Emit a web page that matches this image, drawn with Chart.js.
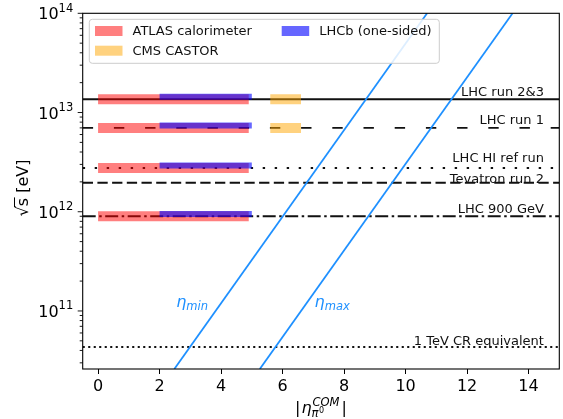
<!DOCTYPE html>
<html>
<head>
<meta charset="utf-8">
<script src="https://cdn.jsdelivr.net/npm/chart.js@4/dist/chart.umd.min.js"></script>
<style>
  html, body { margin: 0; padding: 0; background: #fff; }
  #wrap { width: 563px; height: 419px; }
</style>
</head>
<body>
<div id="wrap"><canvas id="etaChart" width="563" height="419"></canvas></div>
<script>
// axis limits and ticks
const xMin = -0.5, xMax = 15;
const yMin = 2.6e10, yMax = 1e14;
const xTicks = [0, 2, 4, 6, 8, 10, 12, 14];
const yTicks = [1e11, 1e12, 1e13, 1e14];

// reference energies (sqrt(s) in eV)
const refLabels = ["LHC run 2&3", "LHC run 1", "LHC HI ref run", "Tevatron run 2", "LHC 900 GeV", "1 TeV CR equivalent"];
const refEnergies = [1.36e13, 7e12, 2.76e12, 1.96e12, 9e11, 4.33e10];

// detector acceptance bands: eta range and energies
const atlasRange = [0, 4.9];
const atlasEnergies = [1.36e13, 7e12, 2.76e12, 9e11];
const lhcbRange = [2, 5.0];
const lhcbEnergies = [1.44e13, 7.4e12, 2.92e12, 9.5e11];
const castorRange = [5.6, 6.6];
const castorEnergies = [1.36e13, 7e12];

// eta_min / eta_max curves, endpoints
const etaMinX = [2.48, 10.7];
const etaMinY = [2.6e10, 1e14];
const etaMaxX = [5.26, 13.48];
const etaMaxY = [2.6e10, 1e14];

const FONT = "'DejaVu Sans', sans-serif";
const BLUE = "#1e90ff";

// line styles for the reference lines (same order as refLabels)
const refStyles = [
    { w: 1.8, dash: [] },
    { w: 1.8, dash: [10.4, 20.8] },
    { w: 1.8, dash: [2.4, 9.6] },
    { w: 2.0, dash: [10.3, 4.4] },
    { w: 2.0, dash: [13, 3.5, 2.5, 3.5] },
    { w: 1.8, dash: [2.1, 3.4] }
];
const refLabelLift = [3.5, 4, 5.5, 0, 3.5, 2.5];

function bands(range, energies){
    const pts = [];
    energies.forEach(e => {
        pts.push({ x: range[0], y: e }, { x: range[1], y: e }, { x: range[1], y: null });
    });
    return pts;
}

function bandSet(label, range, energies, color, width, order){
    return { label, data: bands(range, energies), borderColor: color, borderWidth: width,
             borderCapStyle: "butt", pointRadius: 0, spanGaps: false, order, clip: 0 };
}

const datasets = [];
refEnergies.forEach((e, i) => {
    datasets.push({ label: refLabels[i], data: [{ x: xMin, y: e }, { x: xMax, y: e }],
        borderColor: "#111", borderWidth: refStyles[i].w, borderDash: refStyles[i].dash,
        borderCapStyle: "butt", pointRadius: 0, order: 3, clip: 0 });
});
datasets.push({ label: "eta_min", data: etaMinX.map((x, i) => ({ x, y: etaMinY[i] })),
    borderColor: BLUE, borderWidth: 1.8, pointRadius: 0, order: 2, clip: 0 });
datasets.push({ label: "eta_max", data: etaMaxX.map((x, i) => ({ x, y: etaMaxY[i] })),
    borderColor: BLUE, borderWidth: 1.8, pointRadius: 0, order: 2, clip: 0 });
datasets.push(bandSet("ATLAS calorimeter", atlasRange, atlasEnergies, "rgba(255,0,0,0.5)", 10, 1));
datasets.push(bandSet("CMS CASTOR", castorRange, castorEnergies, "rgba(255,165,0,0.5)", 10, 1));
datasets.push(bandSet("LHCb (one-sided)", lhcbRange, lhcbEnergies, "rgba(0,0,255,0.6)", 6, 0));

// draw text with a superscript / subscript piece, returns new x
function piece(ctx, txt, x, y, size, italic, dy){
    ctx.font = (italic ? "italic " : "") + size + "px " + FONT;
    ctx.fillText(txt, x, y + (dy || 0));
    return x + ctx.measureText(txt).width;
}

const decor = {
    id: "decor",
    afterDraw(chart){
        const ctx = chart.ctx, ca = chart.chartArea;
        const xs = chart.scales.x, ys = chart.scales.y;
        ctx.save();

        // frame
        ctx.strokeStyle = "#000";
        ctx.lineWidth = 1.1;
        ctx.setLineDash([]);
        ctx.strokeRect(ca.left, ca.top, ca.right - ca.left, ca.bottom - ca.top);

        // log ticks on the y axis
        ctx.lineWidth = 0.9;
        for(let n = 10; n <= 14; n++){
            for(let m = 1; m <= 9; m++){
                const v = m * Math.pow(10, n);
                if(v < yMin || v > yMax) continue;
                const py = ys.getPixelForValue(v);
                const len = m === 1 ? 5 : 3;
                ctx.beginPath();
                ctx.moveTo(ca.left - len, py);
                ctx.lineTo(ca.left, py);
                ctx.stroke();
            }
        }

        // y tick labels 10^n
        ctx.fillStyle = "#000";
        ctx.textBaseline = "alphabetic";
        ctx.textAlign = "left";
        yTicks.forEach(v => {
            const py = ys.getPixelForValue(v);
            const ex = String(Math.round(Math.log10(v)));
            ctx.font = "16px " + FONT;
            const w1 = ctx.measureText("10").width;
            ctx.font = "11.5px " + FONT;
            const w2 = ctx.measureText(ex).width;
            const x0 = ca.left - 9.5 - w1 - w2;
            piece(ctx, "10", x0, py + 6, 16, false);
            piece(ctx, ex, x0 + w1, py - 1.5, 11.5, false);
        });

        // labels of reference lines
        ctx.textAlign = "right";
        ctx.font = "13px " + FONT;
        ctx.fillStyle = "#111";
        refLabels.forEach((t, i) => {
            const py = ys.getPixelForValue(refEnergies[i]);
            ctx.fillText(t, xs.getPixelForValue(14.5), py - refLabelLift[i]);
        });

        // eta_min / eta_max labels
        ctx.textAlign = "left";
        ctx.fillStyle = BLUE;
        const ly = ys.getPixelForValue(1.09e11);
        let px = piece(ctx, "η", xs.getPixelForValue(2.54), ly, 16, true);
        piece(ctx, "min", px, ly, 11.5, true, 3);
        px = piece(ctx, "η", xs.getPixelForValue(7.04), ly, 16, true);
        piece(ctx, "max", px, ly, 11.5, true, 3);

        // x axis title |eta_{pi0}^{COM}|
        ctx.fillStyle = "#000";
        let tx = 295, ty = 413;
        tx = piece(ctx, "|", tx, ty, 16, false);
        tx = piece(ctx, "η", tx + 1, ty, 16, true);
        const sx = tx;
        const e1 = piece(ctx, "COM", sx + 1, ty, 11.5, true, -7);
        const e2 = piece(ctx, "π", sx, ty, 11.5, true, 4);
        piece(ctx, "0", e2 + 0.5, ty, 8, false, -0.5);
        piece(ctx, "|", Math.max(e1, e2) + 2, ty, 16, false);

        // y axis title sqrt(s) [eV]
        ctx.save();
        ctx.translate(28, 188);
        ctx.rotate(-Math.PI / 2);
        ctx.font = "16px " + FONT;
        const parts = ["√", "s", " [eV]"];
        const widths = parts.map(p => ctx.measureText(p).width);
        let ax = -(widths[0] + widths[1] + widths[2]) / 2;
        ctx.fillText(parts[0], ax, 0);
        ax += widths[0];
        ctx.fillText(parts[1], ax, 0);
        ctx.lineWidth = 1;
        ctx.beginPath();
        ctx.moveTo(ax - 1, -13.5);
        ctx.lineTo(ax + widths[1] + 0.5, -13.5);
        ctx.stroke();
        ax += widths[1];
        ctx.fillText(parts[2], ax, 0);
        ctx.restore();

        // legend box
        ctx.fillStyle = "rgba(255,255,255,0.85)";
        ctx.strokeStyle = "#cccccc";
        ctx.lineWidth = 1;
        ctx.beginPath();
        ctx.roundRect(89.3, 19.3, 350, 44, 3);
        ctx.fill();
        ctx.stroke();
        const items = [
            { t: "ATLAS calorimeter", c: "rgba(255,0,0,0.5)", x: 95, y: 26 },
            { t: "CMS CASTOR", c: "rgba(255,165,0,0.5)", x: 95, y: 45.7 },
            { t: "LHCb (one-sided)", c: "rgba(0,0,255,0.6)", x: 281.7, y: 26 }
        ];
        ctx.font = "13px " + FONT;
        ctx.textBaseline = "middle";
        items.forEach(it => {
            ctx.fillStyle = it.c;
            ctx.fillRect(it.x, it.y, 27.5, 10);
            ctx.fillStyle = "#111";
            ctx.fillText(it.t, it.x + 37.5, it.y + 5.5);
        });
        ctx.restore();
    }
};

function bootChart(){
    const cv = document.getElementById("etaChart");
    new Chart(cv.getContext("2d"), {
        type: "line",
        data: { datasets },
        options: {
            responsive: false,
            animation: false,
            devicePixelRatio: 1,
            layout: { padding: { left: 82.7, right: 3.7, top: 13.3, bottom: 0 } },
            plugins: { legend: { display: false }, tooltip: { enabled: false } },
            scales: {
                x: {
                    type: "linear", min: xMin, max: xMax,
                    afterBuildTicks: s => { s.ticks = xTicks.map(v => ({ value: v })); },
                    afterFit: s => { s.height = 50; },
                    border: { display: false },
                    grid: { display: true, drawOnChartArea: false, drawTicks: true, tickLength: 5, tickColor: "#000", tickWidth: 1 },
                    ticks: { color: "#000", font: { family: FONT, size: 16 }, padding: 3, maxRotation: 0 }
                },
                y: {
                    type: "logarithmic", min: yMin, max: yMax,
                    afterBuildTicks: s => { s.ticks = yTicks.map(v => ({ value: v })); },
                    afterFit: s => { s.width = 0; },
                    border: { display: false },
                    grid: { display: false },
                    ticks: { display: false }
                }
            }
        },
        plugins: [decor]
    });
}

document.addEventListener("DOMContentLoaded", bootChart);
</script>
</body>
</html>
